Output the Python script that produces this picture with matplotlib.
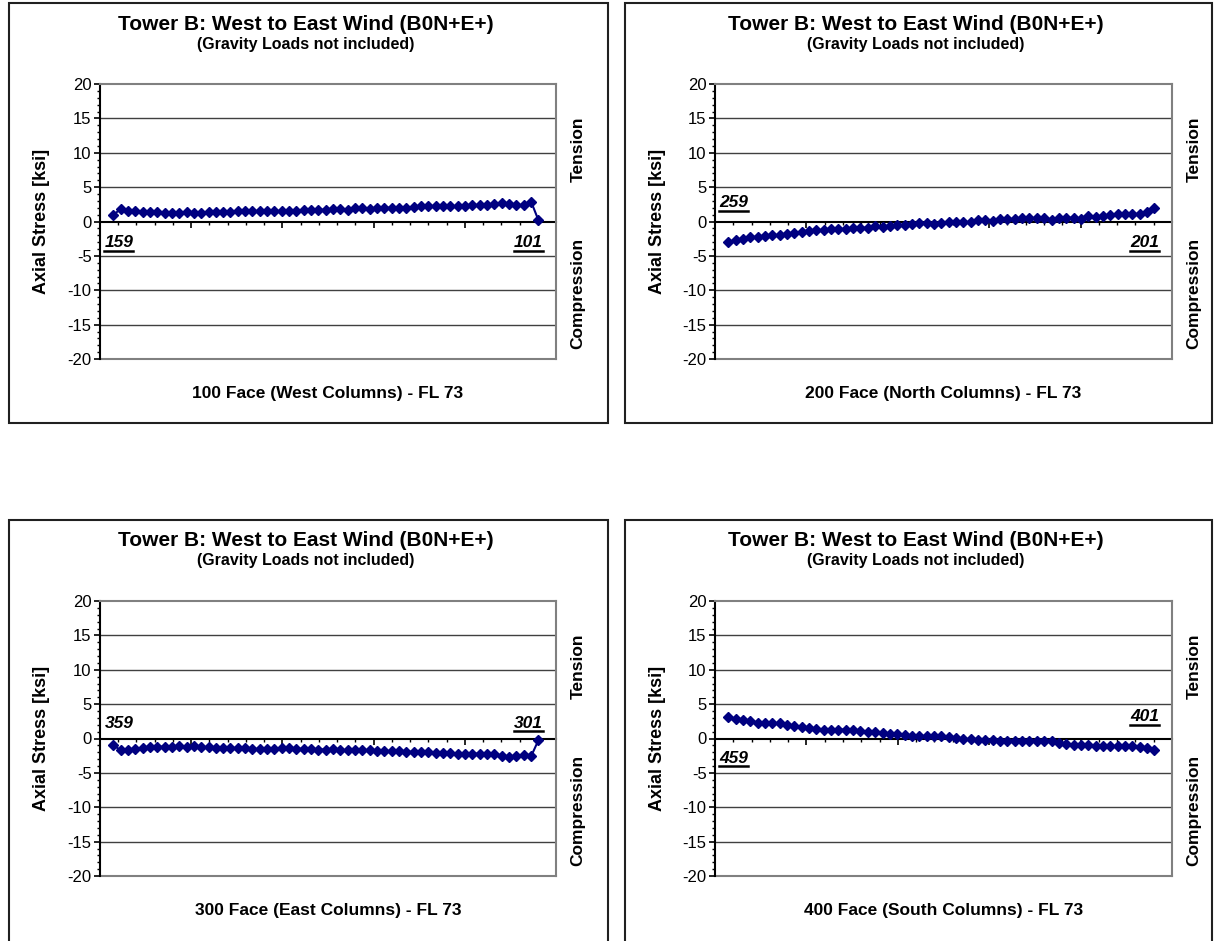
import matplotlib
matplotlib.use("Agg")
import matplotlib.pyplot as plt
from matplotlib.patches import Rectangle
from matplotlib.lines import Line2D
import numpy as np

plt.rcParams['font.family'] = ['Liberation Sans', 'DejaVu Sans']

# Axial stress [ksi] per column, listed from the first labelled column to the last
face100 = [1.0, 1.75, 1.6, 1.5, 1.4, 1.45, 1.4, 1.2, 1.2, 1.3, 1.4, 1.25, 1.25, 1.4, 1.45,
           1.45, 1.45, 1.5, 1.5, 1.5, 1.5, 1.5, 1.5, 1.5, 1.5, 1.55, 1.7, 1.7, 1.7, 1.7,
           1.75, 1.8, 1.7, 1.9, 1.9, 1.8, 1.95, 2.0, 2.0, 2.0, 2.0, 2.1, 2.2, 2.2, 2.2,
           2.2, 2.2, 2.25, 2.3, 2.4, 2.4, 2.4, 2.5, 2.7, 2.5, 2.4, 2.4, 2.9, 0.2]
face200 = [-3.0, -2.7, -2.5, -2.3, -2.2, -2.15, -2.0, -1.95, -1.8, -1.7, -1.55, -1.4, -1.3,
           -1.2, -1.15, -1.1, -1.1, -1.0, -0.9, -0.9, -0.7, -0.75, -0.6, -0.55, -0.45, -0.35,
           -0.2, -0.25, -0.3, -0.25, -0.1, 0.0, -0.05, -0.1, 0.15, 0.15, 0.05, 0.3, 0.4, 0.35,
           0.5, 0.5, 0.5, 0.5, 0.25, 0.5, 0.55, 0.55, 0.4, 0.75, 0.6, 0.8, 0.95, 1.1, 1.1,
           1.1, 1.1, 1.35, 1.9]
face300 = [-0.95, -1.7, -1.6, -1.5, -1.4, -1.3, -1.2, -1.2, -1.2, -1.15, -1.2, -1.15, -1.3,
           -1.3, -1.4, -1.4, -1.4, -1.35, -1.4, -1.5, -1.55, -1.55, -1.5, -1.45, -1.45, -1.5,
           -1.5, -1.55, -1.6, -1.6, -1.55, -1.65, -1.7, -1.7, -1.7, -1.7, -1.8, -1.8, -1.85,
           -1.8, -1.9, -1.95, -1.95, -2.0, -2.05, -2.05, -2.1, -2.2, -2.2, -2.2, -2.2, -2.3,
           -2.3, -2.5, -2.7, -2.5, -2.4, -2.6, -0.25]
face400 = [3.2, 2.8, 2.65, 2.5, 2.25, 2.2, 2.25, 2.2, 2.0, 1.75, 1.65, 1.5, 1.45, 1.3, 1.3,
           1.3, 1.3, 1.2, 1.1, 1.0, 0.95, 0.85, 0.7, 0.6, 0.5, 0.35, 0.35, 0.4, 0.35, 0.35,
           0.25, 0.1, -0.1, -0.1, -0.2, -0.2, -0.25, -0.3, -0.35, -0.35, -0.3, -0.3, -0.35,
           -0.3, -0.35, -0.6, -0.75, -0.9, -0.95, -1.0, -1.1, -1.1, -1.05, -1.1, -1.05, -1.1,
           -1.3, -1.4, -1.65]

x_labels = ["100 Face (West Columns) - FL 73", "200 Face (North Columns) - FL 73",
            "300 Face (East Columns) - FL 73", "400 Face (South Columns) - FL 73"]
# (left column, y, underlined), (right column, y, underlined)
end_labels = [
    (("159", -3.1, True), ("101", -3.1, True)),
    (("259", 2.7, True), ("201", -3.1, True)),
    (("359", 2.2, False), ("301", 2.2, True)),
    (("459", -2.9, True), ("401", 3.2, True)),
]
series = [face100, face200, face300, face400]

title = "Tower B: West to East Wind (B0N+E+)"
subtitle = "(Gravity Loads not included)"

W, H = 1217, 941
fig = plt.figure(figsize=(W / 100, H / 100), dpi=100)
fig.patch.set_facecolor('white')


def fx(px):
    return px / W


def fy(py):
    return 1 - py / H


navy = '#000080'
grid_col = '#404040'
underlines = []

for k in range(4):
    col, row = k % 2, k // 2
    dx = 616 * col
    dy = 517 * row
    # panel frame (the lower row runs off the bottom of the sheet)
    bx0 = 9 + dx
    bx1 = 608 if col == 0 else 1212
    by0 = 3 + dy
    by1 = 423 if row == 0 else 950
    fig.patches.append(Rectangle((fx(bx0), fy(by1)), fx(bx1) - fx(bx0), fy(by0) - fy(by1),
                                 transform=fig.transFigure, fill=False, lw=1.5,
                                 edgecolor='#202020', zorder=0))
    px0, py0, px1, py1 = 100 + dx - (1 if col else 0), 84 + dy, 556 + dx, 359 + dy
    ax = fig.add_axes([fx(px0), fy(py1), fx(px1) - fx(px0), fy(py0) - fy(py1)])
    vals = series[k]
    xs = np.arange(len(vals))
    xl = (-1.8, 60.4)
    ax.set_xlim(*xl)
    ax.set_ylim(-20, 20)
    for yv in [-15, -10, -5, 5, 10, 15]:
        ax.axhline(yv, color=grid_col, lw=1.0, zorder=1)
    ax.axhline(-20, color='#808080', lw=1.5, zorder=1, clip_on=False)
    ax.plot(xs, vals, color=navy, lw=1.5, marker='D', markersize=5.4,
            markerfacecolor=navy, markeredgecolor=navy, zorder=3, clip_on=False)

    for side in ['top', 'right']:
        ax.spines[side].set_color('#808080')
        ax.spines[side].set_linewidth(1.5)
    ax.spines['left'].set_color('black')
    ax.spines['left'].set_linewidth(1.5)
    ax.spines['bottom'].set_position(('data', 0))
    ax.spines['bottom'].set_color('black')
    ax.spines['bottom'].set_linewidth(1.5)
    ax.spines['bottom'].set_zorder(2)

    ticks = np.linspace(xl[0], xl[1], 26)
    ax.set_xticks(ticks[::5])
    ax.set_xticks(ticks, minor=True)
    ax.tick_params(axis='x', which='major', direction='out', length=4, width=1.2,
                   labelbottom=False, color='black')
    ax.tick_params(axis='x', which='minor', direction='out', length=2.5, width=1.0,
                   color='black')
    ax.set_yticks(np.arange(-20, 21, 5))
    ax.set_yticks(np.arange(-20, 21, 1), minor=True)
    ax.tick_params(axis='y', which='major', direction='out', length=4, width=1.2,
                   labelsize=12, pad=2)
    ax.tick_params(axis='y', which='minor', direction='out', length=2.5, width=1.0)
    ax.set_yticklabels([str(v) for v in range(-20, 21, 5)])

    ax.set_ylabel("Axial Stress [ksi]", fontsize=13, fontweight='bold')
    ax.yaxis.set_label_coords(-(px0 - (50 + dx)) / (px1 - px0), 0.5)

    # right-hand side annotations
    rx = ((578 + dx) - px0) / (px1 - px0)
    ax.text(rx, 10.5, "Tension", transform=ax.get_yaxis_transform(), rotation=90,
            ha='center', va='center', fontsize=12.5, fontweight='bold')
    ax.text(rx, -10.5, "Compression", transform=ax.get_yaxis_transform(), rotation=90,
            ha='center', va='center', fontsize=12.5, fontweight='bold')

    # titles and axis caption
    cx = (bx0 + bx1) / 2 - 3
    fig.text(fx(cx), fy(24 + dy), title, ha='center', va='center', fontsize=15,
             fontweight='bold')
    fig.text(fx(cx), fy(44 + dy), subtitle, ha='center', va='center', fontsize=11.5,
             fontweight='bold')
    fig.text(fx((px0 + px1) / 2), fy(394 + dy), x_labels[k], ha='center', va='center',
             fontsize=12.5, fontweight='bold')

    (lt, ly, lu), (rt, ry, ru) = end_labels[k]
    t1 = ax.text(xs[0] - 1.2, ly, lt, ha='left', va='center', fontsize=12.5,
                 fontweight='bold', style='italic')
    t2 = ax.text(xs[-1] + 0.6, ry, rt, ha='right', va='center', fontsize=12.5,
                 fontweight='bold', style='italic')
    if lu:
        underlines.append(t1)
    if ru:
        underlines.append(t2)

# underline the column labels
fig.canvas.draw()
r = fig.canvas.get_renderer()
for t in underlines:
    bb = t.get_window_extent(renderer=r)
    yb = bb.y0 - 0.5
    fig.lines.append(Line2D([bb.x0 / W, bb.x1 / W], [yb / H, yb / H],
                            transform=fig.transFigure, color='black', lw=1.8))

fig.savefig("out.png", dpi=100, facecolor='white')
